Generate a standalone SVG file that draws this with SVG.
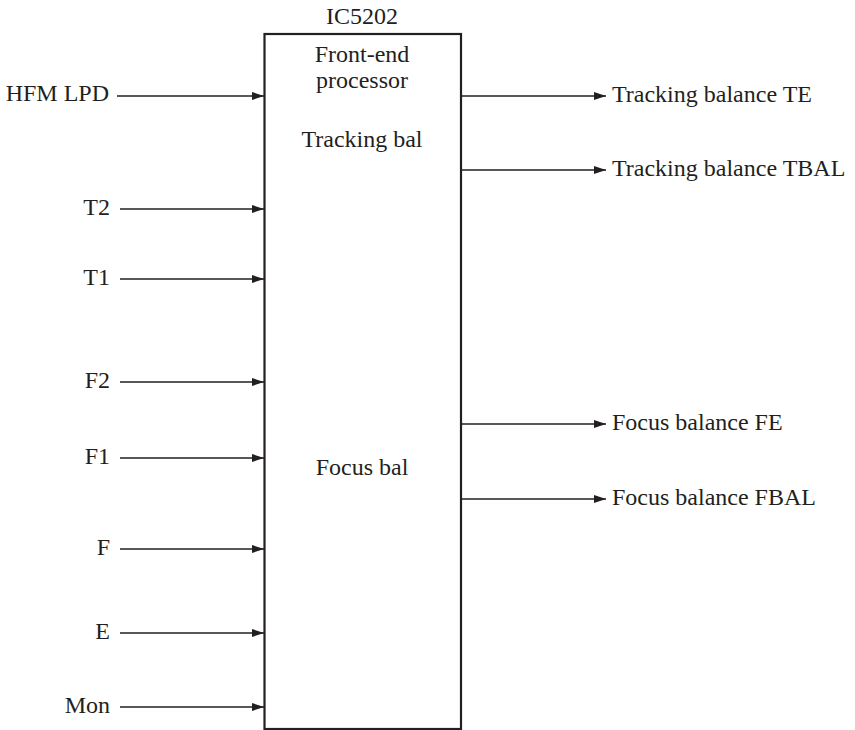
<svg xmlns="http://www.w3.org/2000/svg" width="855" height="730" viewBox="0 0 855 730">
<style>
text{font-family:"Liberation Serif","DejaVu Serif",serif;font-size:24px;fill:#231f20}
.l{text-anchor:end}
.c{text-anchor:middle}
.w{stroke:#231f20;stroke-width:1.3;fill:none}
</style>
<defs>
<marker id="a" viewBox="0 0 12 8" refX="12" refY="4" markerWidth="12" markerHeight="8" markerUnits="userSpaceOnUse" orient="auto">
<path d="M0,0 L12,4 L0,8 Z" fill="#231f20"/>
</marker>
</defs>
<rect width="855" height="730" fill="#fff"/>
<g id="ic5202">
<rect x="264.5" y="34" width="196.5" height="695" fill="#fff" stroke="#231f20" stroke-width="2.2"/>
<text class="c" x="362" y="24">IC5202</text>
<text class="c" x="362" y="62">Front-end</text>
<text class="c" x="362" y="88">processor</text>
<text class="c" x="362" y="147">Tracking bal</text>
<text class="c" x="362" y="475">Focus bal</text>
</g>
<g id="inputs">
<text class="l" x="109" y="101">HFM LPD</text>
<text class="l" x="110" y="215">T2</text>
<text class="l" x="110" y="285">T1</text>
<text class="l" x="110" y="388">F2</text>
<text class="l" x="110" y="464">F1</text>
<text class="l" x="110" y="555">F</text>
<text class="l" x="110" y="639">E</text>
<text class="l" x="110" y="713">Mon</text>
</g>
<g id="outputs">
<text x="612" y="102">Tracking balance TE</text>
<text x="612" y="176">Tracking balance TBAL</text>
<text x="612" y="430">Focus balance FE</text>
<text x="612" y="505">Focus balance FBAL</text>
</g>
<g id="connectors" class="w">
<line x1="117" y1="96" x2="264" y2="96" marker-end="url(#a)"/>
<line x1="120" y1="209" x2="264" y2="209" marker-end="url(#a)"/>
<line x1="120" y1="279" x2="264" y2="279" marker-end="url(#a)"/>
<line x1="120" y1="382" x2="264" y2="382" marker-end="url(#a)"/>
<line x1="120" y1="458" x2="264" y2="458" marker-end="url(#a)"/>
<line x1="120" y1="549" x2="264" y2="549" marker-end="url(#a)"/>
<line x1="120" y1="633" x2="264" y2="633" marker-end="url(#a)"/>
<line x1="120" y1="707" x2="264" y2="707" marker-end="url(#a)"/>
<line x1="461" y1="96" x2="606" y2="96" marker-end="url(#a)"/>
<line x1="461" y1="170" x2="606" y2="170" marker-end="url(#a)"/>
<line x1="461" y1="424" x2="606" y2="424" marker-end="url(#a)"/>
<line x1="461" y1="499" x2="606" y2="499" marker-end="url(#a)"/>
</g>
</svg>
